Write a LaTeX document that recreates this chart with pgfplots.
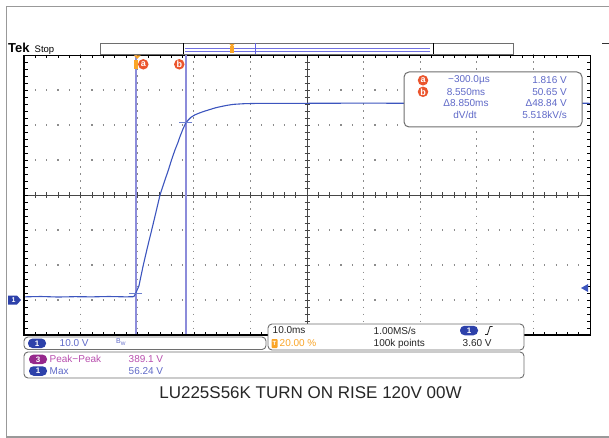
\documentclass[border=0pt]{standalone}
\usepackage{pgfplots}
\pgfplotsset{compat=1.18}
\usepackage{fontspec}
\setmainfont{Liberation Sans}
\definecolor{tekblue}{RGB}{60,85,190}
\definecolor{cursorc}{RGB}{140,140,218}
\definecolor{measblue}{RGB}{95,105,200}
\definecolor{pillblue}{RGB}{45,65,170}
\definecolor{redc}{RGB}{235,85,45}
\definecolor{orangec}{RGB}{250,165,40}
\definecolor{purplec}{RGB}{150,40,140}
\definecolor{magentac}{RGB}{185,80,175}
\definecolor{gridc}{RGB}{140,140,140}
\definecolor{boxc}{RGB}{110,110,110}
\pgfplotstableread{
t V
-20 0.9
-17 1.0
-14 0.85
-11 0.95
-8 0.9
-5 1.0
-2 0.9
-0.6 0.95
-0.3 1.8
0.3 4.0
1.08 10
1.8 15
2.56 20
3.3 25
4.03 30
4.8 33.8
5.5 37.1
6.1 40.2
6.68 42.9
7.2 45.0
7.56 46.7
8.1 48.9
8.55 50.5
9.0 51.4
9.5 52.2
10.2 52.9
11.1 53.5
12.0 54.0
12.8 54.4
13.8 54.9
14.6 55.2
15.8 55.6
17 55.9
19 56.1
22 56.2
30 56.2
40 56.25
50 56.2
60 56.2
70 56.25
80 56.2
}\trace
\tikzset{
  pill/.style={rounded corners=4.5pt, inner sep=0pt, minimum width=18pt, minimum height=9.5pt, text=white, font=\fontsize{8}{8}\selectfont\bfseries},
  txt/.style={inner sep=0pt, font=\fontsize{10}{10}\selectfont},
  rc/.style={circle, fill=redc, inner sep=0pt, minimum size=10.5pt, text=white, font=\fontsize{9}{9}\selectfont\bfseries}
}
\begin{document}
\begin{tikzpicture}[x=1pt,y=-1pt]
\path[use as bounding box] (0,0) rectangle (609,438);
% outer frame
\draw[gray!80, line width=1.3pt] (609,6.5) -- (6.5,6.5) -- (6.5,437) -- (609,437);
% dotted grid
\foreach \yy in {90,125,160,230,265,300}
  \draw[gridc, line width=1.1pt, dash pattern=on 1.1pt off 10.22pt] (23.5,\yy) -- (590,\yy);
\foreach \k in {1,2,3,4,6,7,8,9}
  \draw[gridc, line width=1.1pt, dash pattern=on 1.1pt off 5.9pt] (24+56.6*\k,54.5) -- (24+56.6*\k,335);
% center lines
\draw[gray!55!black, line width=1pt] (24,195) -- (590,195);
\draw[gray!55!black, line width=1pt] (307,55) -- (307,335);
\foreach \k in {1,...,49}
  \draw[gray!55!black, line width=0.7pt] (24+11.32*\k,192.5) -- (24+11.32*\k,197.5);
\foreach \k in {1,...,39}
  \draw[gray!55!black, line width=0.7pt] (304.5,55+7*\k) -- (309.5,55+7*\k);
% border ticks
\foreach \k in {1,...,49} {
  \draw[black, line width=0.6pt] (24+11.32*\k,55) -- (24+11.32*\k,58);
  \draw[black, line width=0.6pt] (24+11.32*\k,335) -- (24+11.32*\k,332);
}
\foreach \k in {1,...,39} {
  \draw[black, line width=0.6pt] (24,55+7*\k) -- (27.5,55+7*\k);
  \draw[black, line width=0.6pt] (590,55+7*\k) -- (586.5,55+7*\k);
}
\begin{axis}[at={(24pt,-335pt)}, anchor=south west, scale only axis,
  width=566pt, height=280pt,
  xmin=-20, xmax=80, ymin=-10, ymax=70,
  xtick=\empty, ytick=\empty,
  axis line style={black, line width=1pt},
  clip=false]
\addplot[cursorc, line width=2pt] coordinates {(-0.3,-10) (-0.3,70)};
\addplot[cursorc, line width=2pt] coordinates {(8.55,-10) (8.55,70)};
\addplot[tekblue, line width=1.1pt] table[x=t, y=V] {\trace};
\addplot[only marks, mark=-, mark size=6.5pt, mark options={tekblue!75, line width=0.9pt}] coordinates {(-0.3,1.816) (8.55,50.65)};
\draw[black, line width=2.2pt] (axis cs:-20,70) -- (axis cs:-20,-10) -- (axis cs:80,-10);
\end{axis}
% record bar
\draw[boxc, line width=0.8pt, fill=white] (100,43.5) rectangle (513,54.5);
\draw[cursorc!80!blue, line width=0.7pt] (185,48) -- (430,48) (185,51.5) -- (430,51.5);
\draw[cursorc!70!blue, line width=0.8pt] (255,43.5) -- (255,54.5);
\draw[black, line width=0.8pt] (183.5,43.5) -- (183.5,54.5) (433,43.5) -- (433,54.5);
\fill[orangec] (230,46) rectangle (234,53);
\fill[orangec] (229.5,44) -- (234.5,44) -- (232,47) -- cycle;
\draw[black!80, line width=1pt] (602,44) -- (609,44);
% Tek Stop
\node[anchor=base west, inner sep=0pt, font=\fontsize{13}{13}\selectfont\bfseries] at (8,53) {Tek};
\node[anchor=base west, inner sep=0pt, font=\fontsize{9.5}{10}\selectfont] at (34.5,53) {Stop};
% trigger markers
\fill[orangec] (134,55.5) -- (140.5,55.5) -- (137.2,59) -- cycle;
\fill[orangec] (133.5,60.5) rectangle (138,69);
\node[rc] at (143.3,64.3) {a};
\node[rc] at (179.3,64.3) {b};
% ground marker and trigger level
\fill[pillblue] (8,295.5) -- (17,295.5) -- (21,300) -- (17,304.5) -- (8,304.5) -- cycle;
\node[text=white, inner sep=0pt, font=\fontsize{7}{7}\selectfont\bfseries] at (13.5,300) {1};
\fill[tekblue] (581,288) -- (588,284) -- (588,292) -- cycle;
% measurement box
\draw[boxc, line width=1pt, rounded corners=5pt, fill=white] (404,72) rectangle (582,127);
\node[rc] at (423,80.3) {a};
\node[rc] at (423,91.8) {b};
\begin{scope}[every node/.style={txt, text=measblue}]
\node at (469,80.3) {−300.0µs};
\node at (466,91.8) {8.550ms};
\node at (466,103.3) {Δ8.850ms};
\node at (465,114.8) {dV/dt};
\node[anchor=east] at (567,80.3) {1.816 V};
\node[anchor=east] at (567,91.8) {50.65 V};
\node[anchor=east] at (567,103.3) {Δ48.84 V};
\node[anchor=east] at (567,114.8) {5.518kV/s};
\end{scope}
% channel box
\draw[boxc, line width=0.9pt, rounded corners=4pt, fill=white] (24,337) rectangle (266,349.5);
\node[pill, fill=pillblue] at (37,343.3) {1};
\node[txt, anchor=west, text=measblue] at (59.5,343.3) {10.0 V};
\node[txt, anchor=west, text=measblue, font=\fontsize{7}{7}\selectfont] at (116,342.3) {B\raisebox{-1.5pt}{\fontsize{5}{5}\selectfont W}};
% timebase box
\draw[boxc, line width=0.9pt, rounded corners=4pt, fill=white] (268,324) rectangle (524,350);
\node[txt, anchor=west, text=black!85] at (272.5,330.5) {10.0ms};
\node[txt, anchor=west, text=black!85] at (373.5,330.5) {1.00MS/s};
\node[pill, fill=pillblue] at (469,330.5) {1};
\draw[black!85, line width=0.8pt] (485,334.5) -- (487.5,334.5) -- (490,326.5) -- (492.5,326.5);
\fill[orangec, rounded corners=0.8pt] (271.5,339) rectangle (277.5,348);
\node[inner sep=0pt, text=white, font=\fontsize{6}{6}\selectfont\bfseries] at (274.5,343.5) {T};
\node[txt, anchor=west, text=orangec] at (279.5,343.5) {20.00 \%};
\node[txt, anchor=west, text=black!85] at (373.5,343.5) {100k points};
\node[txt, anchor=west, text=black!85] at (462.5,343.5) {3.60 V};
% lower measurement box
\draw[boxc, line width=0.9pt, rounded corners=4pt, fill=white] (24,352) rectangle (524,378);
\node[pill, fill=purplec] at (38,359.3) {3};
\node[txt, anchor=west, text=magentac] at (49.5,359.3) {Peak−Peak};
\node[txt, anchor=west, text=magentac] at (128.5,359.3) {389.1 V};
\node[pill, fill=pillblue] at (38,371) {1};
\node[txt, anchor=west, text=measblue] at (49.5,371) {Max};
\node[txt, anchor=west, text=measblue] at (128.5,371) {56.24 V};
% title
\node[inner sep=0pt, text=black!85, font=\fontsize{17}{17}\selectfont] at (310.5,393) {LU225S56K TURN ON RISE 120V 00W};
\end{tikzpicture}
\end{document}
